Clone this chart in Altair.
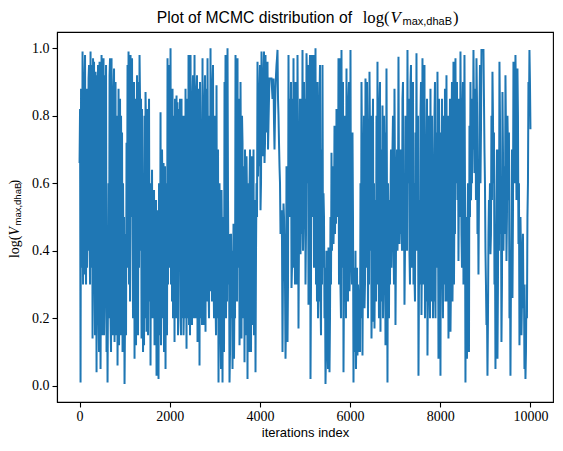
import altair as alt
import pandas as pd

# MCMC trace: one reading per ~22 iterations ...
trace_values = [
    0.66, 0.01, 0.62, 0.99, 0.55, 0.92, 0.50, 0.88, 0.62, 0.91,
    0.45, 0.99, 0.70, 0.14, 0.85, 0.30, 0.93, 0.04, 0.80, 0.20,
    0.96, 0.05, 0.98, 0.35, 0.97, 0.25, 0.75, 0.10, 0.01, 0.60,
    0.92, 0.20, 0.97, 0.40, 0.88, 0.13, 0.90, 0.35, 0.06, 0.88,
    0.30, 0.15, 0.53, 0.10, 0.30, 0.005, 0.45, 0.72, 0.95, 0.99,
    0.60, 0.98, 0.90, 0.45, 0.65, 0.08, 0.55, 0.62, 0.30, 0.90,
    0.98, 0.40, 0.14, 0.55, 0.30, 0.80, 0.87, 0.16, 0.60, 0.64,
    0.25, 0.06, 0.45, 0.20, 0.55, 0.12, 0.40, 0.03, 0.35, 0.02,
    0.50, 0.81, 0.35, 0.55, 0.66, 0.40, 0.05, 0.28, 0.97, 0.75,
    0.95, 1.00, 0.70, 0.88, 0.50, 0.13, 0.60, 0.86, 0.84, 0.40,
    0.55, 0.20, 0.85, 0.40, 0.15, 0.80, 0.88, 0.11, 0.60, 0.98,
    0.45, 0.98, 0.28, 0.85, 0.40, 0.98, 0.50, 0.88, 0.13, 0.55,
    0.06, 0.75, 0.35, 0.97, 0.45, 0.85, 0.16, 0.70, 0.97, 0.29,
    0.80, 1.00, 0.55, 0.90, 0.35, 0.61, 0.25, 0.89, 0.40, 0.01,
    0.60, 0.15, 0.58, 0.01, 0.23, 0.90, 0.98, 0.45, 1.00, 0.30,
    0.01, 0.40, 0.20, 0.05, 0.48, 0.30, 0.98, 0.39, 0.97, 0.50,
    0.12, 0.90, 0.14, 0.72, 0.40, 0.07, 0.50, 0.68, 0.02, 0.35,
    0.59, 0.20, 0.52, 0.18, 0.70, 0.30, 0.04, 0.60, 0.96, 0.75,
    0.88, 0.52, 0.99, 0.80, 0.93, 0.66, 0.98, 0.85, 0.96, 0.78,
    0.91, 0.91, 0.91, 0.85, 0.91, 0.70, 0.88, 0.95, 0.995, 0.80,
    0.65, 0.45, 0.52, 0.10, 0.54, 0.40, 0.08, 0.65, 0.13, 0.98,
    0.50, 0.70, 0.29, 0.85, 0.97, 0.55, 0.90, 0.40, 0.98, 0.17,
    0.60, 0.39, 0.85, 0.995, 0.50, 0.75, 0.30, 0.985, 0.60, 0.24,
    0.90, 0.02, 0.95, 0.50, 0.98, 0.61, 1.00, 0.61, 0.90, 0.45,
    0.85, 0.25, 0.70, 0.95, 0.57, 0.20, 0.005, 0.40, 0.15, 0.41,
    0.04, 0.50, 0.69, 0.55, 0.42, 0.77, 0.60, 0.82, 0.75, 0.97,
    0.80, 0.29, 0.995, 0.70, 0.04, 0.80, 0.60, 0.94, 0.45, 0.85,
    0.28, 0.995, 0.55, 0.75, 0.01, 0.30, 0.40, 0.20, 0.09, 0.25,
    0.17, 0.60, 0.90, 0.09, 0.55, 0.23, 0.91, 0.35, 0.75, 0.50,
    0.93, 0.40, 0.14, 0.70, 0.19, 0.17, 0.55, 0.80, 0.96, 0.45,
    0.84, 0.16, 0.50, 0.83, 0.30, 0.65, 0.12, 0.94, 0.01, 0.40,
    0.55, 0.55, 0.35, 0.70, 0.45, 0.88, 0.18, 0.60, 0.40, 0.975,
    0.42, 0.70, 0.55, 0.85, 0.40, 0.24, 0.80, 0.60, 0.995, 0.75,
    0.39, 0.90, 0.50, 0.80, 0.30, 0.32, 0.75, 0.985, 0.60, 0.03,
    0.55, 0.80, 0.21, 0.97, 0.50, 0.95, 0.40, 0.70, 0.09, 0.55,
    0.30, 0.88, 0.45, 0.65, 0.31, 0.80, 0.20, 0.60, 0.93, 0.08,
    0.50, 0.03, 0.60, 0.35, 0.80, 0.45, 0.25, 0.92, 0.55, 0.14,
    0.60, 0.16, 0.73, 0.25, 0.96, 0.55, 0.97, 0.70, 0.55, 0.37,
    0.85, 0.99, 0.45, 0.80, 0.30, 0.98, 0.01, 0.16, 0.45, 0.20,
    0.77, 0.90, 0.67, 0.85, 0.995, 0.63, 0.88, 0.97, 0.45, 0.33,
    0.80, 0.60, 0.995, 0.995, 0.995, 0.70, 0.40, 0.18, 0.03, 0.45,
    0.50, 0.39, 0.80, 0.93, 0.60, 0.30, 0.05, 0.55, 0.08, 0.70,
    0.96, 0.45, 0.13, 0.87, 0.40, 0.65, 0.92, 0.37, 0.80, 0.55,
    0.20, 0.03, 0.45, 0.26, 0.96, 0.60, 0.98, 0.55, 0.94, 0.42,
    0.12, 0.50, 0.15, 0.35, 0.23, 0.05, 0.02, 0.30, 0.50, 0.90,
    0.995, 0.76,
]

# ... and the opposite extreme reached half-way between two readings
trace_values_between = [
    0.82, 0.88, 0.35, 0.30, 0.33, 0.98, 0.30, 0.35, 0.40, 0.95,
    0.30, 0.35, 0.95, 0.97, 0.96, 0.15, 0.60, 0.92, 0.95, 0.10,
    0.55, 0.40, 0.15, 0.20, 0.15, 0.92, 0.95, 0.45, 0.30, 0.20,
    0.97, 0.10, 0.20, 0.15, 0.94, 0.30, 0.15, 0.80, 0.40, 0.12,
    0.85, 0.80, 0.75, 0.60, 0.50, 0.20, 0.15, 0.35, 0.40, 0.30,
    0.25, 0.50, 0.97, 0.20, 0.90, 0.85, 0.12, 0.92, 0.15, 0.35,
    0.85, 0.85, 0.82, 0.10, 0.12, 0.20, 0.75, 0.82, 0.15, 0.85,
    0.60, 0.55, 0.64, 0.50, 0.58, 0.48, 0.55, 0.45, 0.52, 0.60,
    0.15, 0.12, 0.70, 0.20, 0.10, 0.65, 0.60, 0.15, 0.30, 0.35,
    0.45, 0.30, 0.25, 0.20, 0.80, 0.85, 0.20, 0.25, 0.15, 0.82,
    0.85, 0.15, 0.20, 0.80, 0.25, 0.20, 0.50, 0.85, 0.20, 0.18,
    0.15, 0.60, 0.18, 0.92, 0.20, 0.25, 0.20, 0.92, 0.88, 0.85,
    0.90, 0.20, 0.18, 0.20, 0.18, 0.92, 0.88, 0.25, 0.60, 0.20,
    0.30, 0.28, 0.25, 0.95, 0.20, 0.80, 0.15, 0.20, 0.70, 0.50,
    0.35, 0.05, 0.40, 0.50, 0.10, 0.40, 0.20, 0.25, 0.55, 0.45,
    0.10, 0.45, 0.40, 0.30, 0.08, 0.20, 0.30, 0.25, 0.35, 0.85,
    0.30, 0.60, 0.80, 0.20, 0.65, 0.70, 0.15, 0.55, 0.60, 0.10,
    0.70, 0.10, 0.68, 0.25, 0.15, 0.55, 0.40, 0.50, 0.62, 0.65,
    0.95, 0.60, 0.70, 0.68, 0.99, 0.72, 0.75, 0.80, 0.70, 0.85,
    0.91, 0.91, 0.88, 0.88, 0.78, 0.80, 0.92, 0.97, 0.85, 0.72,
    0.60, 0.48, 0.43, 0.35, 0.50, 0.30, 0.20, 0.40, 0.30, 0.60,
    0.85, 0.90, 0.35, 0.40, 0.35, 0.30, 0.60, 0.30, 0.70, 0.45,
    0.85, 0.50, 0.45, 0.40, 0.90, 0.85, 0.45, 0.90, 0.95, 0.50,
    0.98, 0.30, 0.98, 0.70, 0.35, 0.40, 0.30, 0.25, 0.20, 0.25,
    0.95, 0.15, 0.30, 0.35, 0.50, 0.35, 0.10, 0.30, 0.05, 0.30,
    0.20, 0.30, 0.40, 0.65, 0.50, 0.45, 0.48, 0.55, 0.50, 0.30,
    0.97, 0.20, 0.35, 0.90, 0.30, 0.25, 0.20, 0.30, 0.25, 0.90,
    0.35, 0.40, 0.30, 0.50, 0.35, 0.10, 0.05, 0.35, 0.30, 0.10,
    0.10, 0.20, 0.70, 0.40, 0.80, 0.30, 0.80, 0.90, 0.20, 0.30,
    0.75, 0.80, 0.30, 0.85, 0.60, 0.40, 0.25, 0.30, 0.30, 0.20,
    0.90, 0.70, 0.25, 0.20, 0.80, 0.75, 0.40, 0.55, 0.60, 0.20,
    0.30, 0.70, 0.50, 0.80, 0.30, 0.60, 0.40, 0.70, 0.50, 0.60,
    0.50, 0.45, 0.40, 0.90, 0.60, 0.40, 0.50, 0.40, 0.60, 0.85,
    0.30, 0.95, 0.35, 0.90, 0.60, 0.25, 0.45, 0.40, 0.80, 0.30,
    0.30, 0.90, 0.40, 0.30, 0.35, 0.20, 0.25, 0.85, 0.35, 0.80,
    0.20, 0.25, 0.80, 0.20, 0.25, 0.90, 0.75, 0.35, 0.60, 0.85,
    0.75, 0.70, 0.85, 0.20, 0.30, 0.88, 0.40, 0.25, 0.80, 0.35,
    0.85, 0.30, 0.90, 0.40, 0.30, 0.45, 0.60, 0.90, 0.85, 0.60,
    0.50, 0.70, 0.35, 0.90, 0.50, 0.60, 0.50, 0.08, 0.60, 0.10,
    0.50, 0.55, 0.60, 0.70, 0.80, 0.70, 0.55, 0.85, 0.65, 0.55,
    0.95, 0.75, 0.995, 0.995, 0.85, 0.60, 0.30, 0.25, 0.20, 0.55,
    0.60, 0.45, 0.55, 0.80, 0.75, 0.45, 0.35, 0.70, 0.30, 0.40,
    0.80, 0.60, 0.30, 0.70, 0.55, 0.45, 0.75, 0.50, 0.70, 0.75,
    0.40, 0.30, 0.70, 0.50, 0.80, 0.70, 0.85, 0.65, 0.80, 0.60,
    0.30, 0.40, 0.25, 0.45, 0.30, 0.20, 0.10, 0.20, 0.60, 0.80,
    0.90,
]

n = len(trace_values)
step = 9999 / (n - 1)
iters, vals = [], []
for i, v in enumerate(trace_values):
    iters.append(i * step)
    vals.append(v)
    if i < len(trace_values_between):
        iters.append((i + 0.5) * step)
        vals.append(trace_values_between[i])

x_ticks = [0, 2000, 4000, 6000, 8000, 10000]
y_ticks = [0.0, 0.2, 0.4, 0.6, 0.8, 1.0]

title_main = "Plot of MCMC distribution of"
math_open = "log("
math_var = "V"
math_sub = "max,dhaB"
math_close = ")"
x_title = "iterations index"

SANS = "Liberation Sans"
SERIF = "Liberation Serif"
W, H = 496, 370

df = pd.DataFrame({"iteration": iters, "value": vals})

line = alt.Chart(df).mark_line(color="#1f77b4", strokeWidth=2, clip=True).encode(
    x=alt.X(
        "iteration:Q",
        scale=alt.Scale(domain=[-500, 10499], nice=False, zero=False),
        axis=alt.Axis(
            values=x_ticks, format="d", title=x_title,
            labelFont=SERIF, labelFontSize=14, labelPadding=2,
            titleFont=SANS, titleFontSize=13, titleFontWeight="normal",
            titlePadding=3, labelFlush=False, labelOverlap=False,
        ),
    ),
    y=alt.Y(
        "value:Q",
        scale=alt.Scale(domain=[-0.048, 1.048], nice=False, zero=False),
        axis=alt.Axis(
            values=y_ticks, format=".1f", title=None,
            labelFont=SERIF, labelFontSize=14, labelPadding=3,
            labelFlush=False, labelOverlap=False,
        ),
    ),
)


def piece(text, x, y, font, size, style="normal", angle=None, align="left"):
    kw = dict(align=align, baseline="alphabetic", font=font, fontSize=size,
              fontStyle=style, color="black")
    if angle is not None:
        kw["angle"] = angle
    return alt.Chart(pd.DataFrame({"t": [text]})).mark_text(**kw).encode(
        x=alt.value(x), y=alt.value(y), text="t:N"
    )


TB = -9.5   # title baseline (plot coords)
title_layers = [
    piece(title_main, 295, TB, SANS, 15.7, align="right"),
    piece(math_open, 305.7, TB, SERIF, 16.7),
    piece(math_var, 333.5, TB, SERIF, 16.7, style="italic"),
    piece(math_sub, 345.5, TB + 2.4, SANS, 11),
    piece(math_close, 396, TB, SERIF, 16.7),
]
YB = -38.0   # y-label baseline (plot coords)
ylabel_layers = [
    piece(math_open, YB, 226, SERIF, 13.9, angle=270),
    piece(math_var, YB, 203.6, SERIF, 13.9, style="italic", angle=270),
    piece(math_sub, YB + 2, 193.5, SANS, 9.5, angle=270),
    piece(math_close, YB, 152.5, SERIF, 13.9, angle=270),
]

chart = alt.layer(line, *title_layers, *ylabel_layers).properties(
    width=W, height=H,
    autosize=alt.AutoSizeParams(type="none"),
    padding={"left": 49, "top": 24, "right": 2, "bottom": 41},
).configure_view(
    stroke="black", strokeWidth=1.1
).configure_axis(
    grid=False, domainColor="black", domainWidth=1.1,
    tickColor="black", tickWidth=1.1, tickSize=5,
    labelColor="black", titleColor="black",
)

chart.save("out.html", embed_options={"renderer": "svg", "actions": False})
